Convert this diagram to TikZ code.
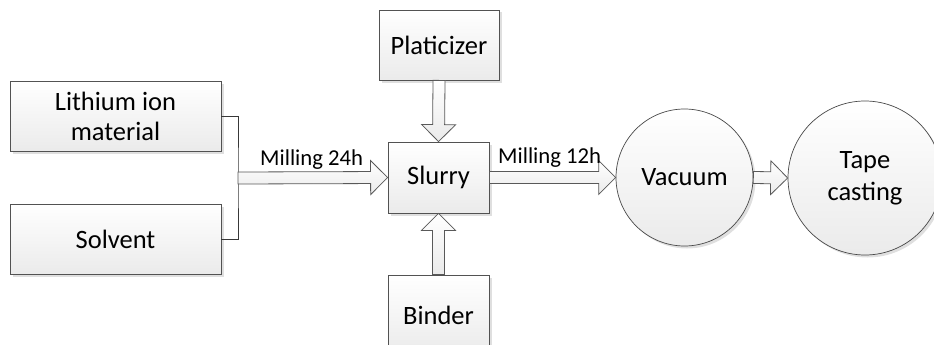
\documentclass[tikz,border=0pt]{standalone}
\usepackage{fontspec}
\setmainfont{Carlito}
\usetikzlibrary{calc,shadows}
\begin{document}
\begin{tikzpicture}[x=1pt,y=-1pt,
  boxfont/.style={font=\fontsize{26.5}{30}\selectfont},
  circfont/.style={font=\fontsize{26.5}{32}\selectfont},
  lblfont/.style={font=\fontsize{22.7}{27}\selectfont},
  procbox/.style={draw=black!68, line width=0.8pt, rectangle, inner sep=0pt,
    top color=white, bottom color=black!8, align=center, boxfont,
    drop shadow={shadow xshift=2.5pt, shadow yshift=-2.5pt, fill=black!18, opacity=0.7}},
  proccirc/.style={draw=black!72, line width=0.7pt, circle, inner sep=0pt,
    top color=white, bottom color=black!8, align=center, circfont,
    drop shadow={shadow xshift=2.5pt, shadow yshift=-2.5pt, fill=black!18, opacity=0.7}},
  blockarr/.style={draw=black!65, line width=0.8pt, top color=white, bottom color=black!8},
  bracketline/.style={draw=black!78, line width=1pt}
]
\useasboundingbox (0,0) rectangle (934,345);
\clip (0,0) rectangle (934,345);

\newcommand\blockarrow[2]{%
  \coordinate (ba-h) at ($(#2)!17pt!(#1)$);
  \draw[blockarr] ($(#1)!6pt!90:(#2)$) -- ($(ba-h)!6pt!90:(#2)$)
    -- ($(ba-h)!17pt!90:(#2)$) -- (#2) -- ($(ba-h)!17pt!-90:(#2)$)
    -- ($(ba-h)!6pt!-90:(#2)$) -- ($(#1)!6pt!-90:(#2)$) -- cycle;}

% nodes
\node[procbox, minimum width=211pt, minimum height=70pt] (lith) at (115.5,116) {Lithium ion\\material};
\node[procbox, minimum width=211pt, minimum height=70pt] (solv) at (115.5,239) {Solvent};
\node[procbox, minimum width=120pt, minimum height=70pt] (plat) at (439,45) {Platicizer};
\node[procbox, minimum width=101pt, minimum height=71pt] (slurry) at (438.5,177.5) {Slurry};
\node[procbox, minimum width=101pt, minimum height=80pt] (binder) at (438.5,315) {Binder};
\node[proccirc, minimum size=137pt] (vac) at (684.5,177.5) {Vacuum};
\node[proccirc, minimum size=154pt] (tape) at (865,178) {Tape\\casting};

% bracket
\coordinate (jn) at (238,178);
\draw[bracketline] (lith.east) -| (jn) |- (solv.east);

% block arrows
\blockarrow{jn}{slurry.west}
\blockarrow{slurry.east}{vac.west}
\blockarrow{vac.east}{tape.west}
\blockarrow{plat.south}{slurry.north}
\blockarrow{binder.north}{slurry.south}

% labels
\node[lblfont, anchor=base west, inner sep=0pt] (m24) at (260,165) {Milling 24h};
\node[lblfont, anchor=base west, inner sep=0pt] (m12) at (498,163) {Milling 12h};
\end{tikzpicture}
\end{document}
